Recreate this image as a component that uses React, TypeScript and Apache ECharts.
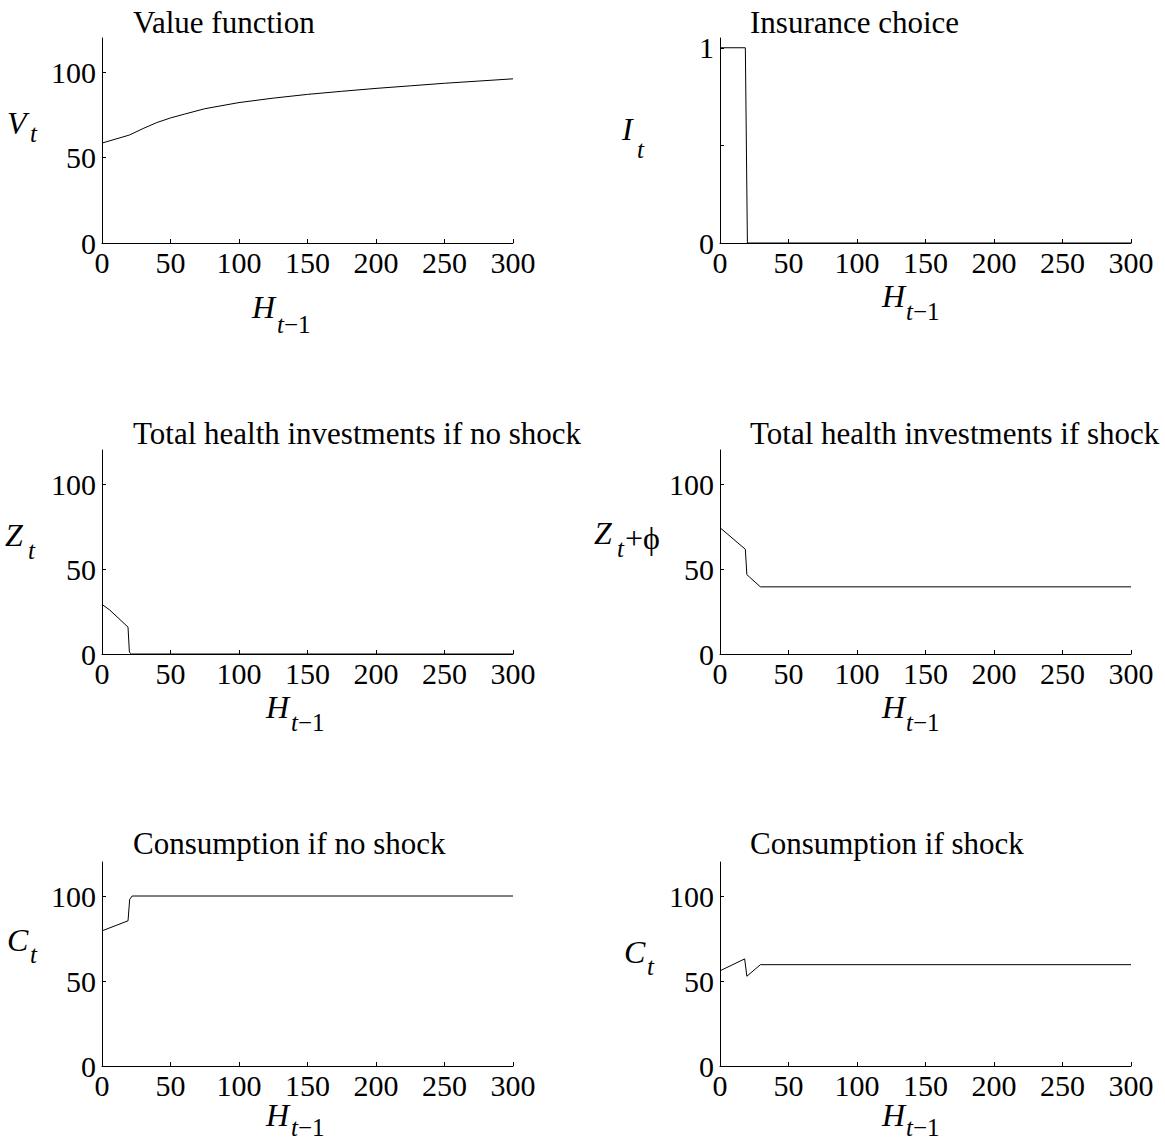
import React, { useEffect, useRef } from "react";
import * as echarts from "echarts";

// ---------- data ----------
const xTickValues = [0, 50, 100, 150, 200, 250, 300];
const yTickValues = [0, 50, 100];
const insTickValues = [0, 0.5, 1];
const insLabelValues = [0, 1];

const titles = [
  "Value function",
  "Insurance choice",
  "Total health investments if no shock",
  "Total health investments if shock",
  "Consumption if no shock",
  "Consumption if shock",
];

const valueH = [0, 20, 30, 40, 50, 60, 75, 100, 125, 150, 175, 200, 225, 250, 275, 300];
const valueV = [58.5, 63.2, 67, 70.5, 73.2, 75.4, 78.6, 82.2, 84.8, 87, 88.8, 90.5, 92, 93.5, 94.8, 96.1];

const insH = [0, 18.5, 20, 300];
const insI = [1, 1, 0, 0];

const zNoShockH = [0, 5.6, 19, 20, 21.5, 300];
const zNoShockV = [29.2, 25.9, 15.8, 1, 0, 0];

const zShockH = [0, 18.5, 19.6, 21.5, 29.5, 300];
const zShockV = [74.3, 61.6, 46.7, 45.3, 39.5, 39.5];

const cNoShockH = [0, 19, 20.2, 22, 300];
const cNoShockV = [79.5, 85.4, 98, 100, 100];

const cShockH = [0, 18, 19.6, 29.5, 300];
const cShockV = [56, 63, 52.8, 59.6, 59.6];

const yMainLetters = ["V", "I", "Z", "Z", "C", "C"];

// ---------- helpers ----------
const FONT = "'Liberation Serif', 'Times New Roman', serif";
const zip = (a: number[], b: number[]) => a.map((v, i) => [v, b[i]]);

const seriesData = [
  zip(valueH, valueV),
  zip(insH, insI),
  zip(zNoShockH, zNoShockV),
  zip(zShockH, zShockV),
  zip(cNoShockH, cNoShockV),
  zip(cShockH, cShockV),
];

const grids = [
  { left: 102, top: 38, width: 411, height: 205 },
  { left: 720, top: 38, width: 411, height: 205 },
  { left: 102, top: 450, width: 411, height: 204 },
  { left: 720, top: 450, width: 411, height: 204 },
  { left: 102, top: 862, width: 411, height: 204 },
  { left: 720, top: 862, width: 411, height: 204 },
];

function txt(x: number, baseline: number, text: string, fs: number, italic: boolean) {
  return {
    type: "text",
    x,
    y: baseline - 0.3375 * fs,
    silent: true,
    style: {
      text,
      fontSize: fs,
      fontFamily: FONT,
      fontStyle: italic ? "italic" : "normal",
      fill: "#000",
      align: "left",
      verticalAlign: "middle",
    },
  };
}

function subTm1(x: number, baseline: number, fs: number) {
  return {
    type: "text",
    x,
    y: baseline - 0.3375 * fs,
    silent: true,
    style: {
      text: "{i|t}{n|\u22121}",
      rich: {
        i: { fontStyle: "italic", fontSize: fs, fontFamily: FONT, fill: "#000" },
        n: { fontSize: fs, fontFamily: FONT, fill: "#000" },
      },
      fontSize: fs,
      fontFamily: FONT,
      fill: "#000",
      align: "left",
      verticalAlign: "middle",
    },
  };
}

const MAIN = 32;
const SUB = 25;
const TITLE = 31;
const TICK = 30;

export default function App() {
  const ref = useRef<HTMLDivElement>(null);

  useEffect(() => {
    if (!ref.current) return;
    const chart = echarts.init(ref.current, undefined, { renderer: "svg" });

    const titleX = [133, 750, 133, 750, 133, 750];
    const titleBase = [33, 33, 444, 444, 854, 854];

    const yLabPos = [
      { x: 7, b: 134, sx: 30, sb: 142 },
      { x: 622, b: 140, sx: 637, sb: 158 },
      { x: 5, b: 546, sx: 28, sb: 559 },
      { x: 594, b: 544, sx: 617, sb: 557 },
      { x: 7, b: 951, sx: 30, sb: 963 },
      { x: 624, b: 963, sx: 647, sb: 975 },
    ];
    const hLabPos = [
      { x: 252, b: 318, sx: 277, sb: 333 },
      { x: 882, b: 307, sx: 906, sb: 320 },
      { x: 266, b: 718, sx: 291, sb: 731 },
      { x: 882, b: 718, sx: 906, sb: 731 },
      { x: 266, b: 1126, sx: 291, sb: 1136 },
      { x: 882, b: 1126, sx: 906, sb: 1136 },
    ];

    const graphics: any[] = [];
    titles.forEach((t, i) => graphics.push(txt(titleX[i], titleBase[i], t, TITLE, false)));
    yLabPos.forEach((p, i) => {
      graphics.push(txt(p.x, p.b, yMainLetters[i], MAIN, true));
      graphics.push(txt(p.sx, p.sb, "t", SUB, true));
    });
    graphics.push(txt(625, 549, "+\u03D5", MAIN, false));
    hLabPos.forEach((p) => {
      graphics.push(txt(p.x, p.b, "H", MAIN, true));
      graphics.push(subTm1(p.sx, p.sb, SUB));
    });

    const axisLine = { show: true, onZero: false, lineStyle: { color: "#000", width: 1 } };
    const axisTickBase = { show: true, inside: true, length: 4, lineStyle: { color: "#000", width: 1 } };
    const labelBase = { color: "#000", fontFamily: FONT, fontSize: TICK };

    const xAxes = grids.map((_, i) => ({
      type: "value",
      gridIndex: i,
      min: 0,
      max: 300,
      interval: 50,
      axisLine,
      axisTick: { ...axisTickBase, customValues: xTickValues },
      axisLabel: { ...labelBase, margin: 4, customValues: xTickValues },
      splitLine: { show: false },
    }));

    const yAxes = grids.map((_, i) => {
      const isIns = i === 1;
      return {
        type: "value",
        gridIndex: i,
        min: 0,
        max: isIns ? 1.05 : 120,
        interval: isIns ? 0.5 : 50,
        axisLine,
        axisTick: { ...axisTickBase, customValues: isIns ? insTickValues : yTickValues },
        axisLabel: {
          ...labelBase,
          margin: 6,
          customValues: isIns ? insLabelValues : yTickValues,
        },
        splitLine: { show: false },
      };
    });

    const series = seriesData.map((d, i) => ({
      type: "line",
      xAxisIndex: i,
      yAxisIndex: i,
      data: d,
      showSymbol: false,
      symbol: "none",
      silent: true,
      lineStyle: { color: "#000", width: 1 },
    }));

    chart.setOption({
      animation: false,
      backgroundColor: "#fff",
      grid: grids,
      xAxis: xAxes,
      yAxis: yAxes,
      series,
      graphic: graphics,
    });

    return () => chart.dispose();
  }, []);

  return (
    <div
      ref={ref}
      style={{ position: "absolute", left: 0, top: 0, width: 1165, height: 1142, background: "#fff" }}
    />
  );
}
